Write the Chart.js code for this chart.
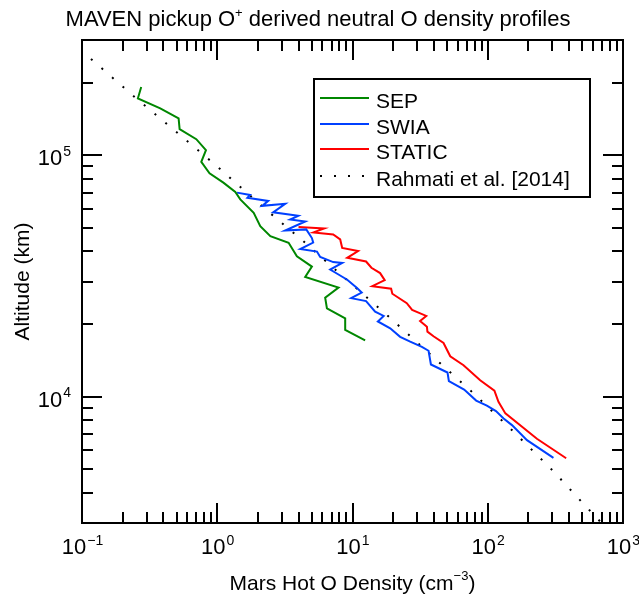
<!DOCTYPE html>
<html>
<head>
<meta charset="utf-8">
<script src="https://cdn.jsdelivr.net/npm/chart.js@4.4.0/dist/chart.umd.min.js"></script>
<style>
  html, body { margin: 0; padding: 0; background: #fff; }
  canvas { display: block; }
</style>
</head>
<body>
<canvas id="myChart" width="639" height="595"></canvas>
<script>
// densities in cm^-3, altitudes in km
var sepDensity = [0.274, 0.259, 0.379, 0.518, 0.527, 0.700, 0.825, 0.762, 0.877, 1.11, 1.36, 1.48, 1.86, 2.08, 2.47, 3.37, 3.88, 5.01, 4.47, 7.88, 6.28, 6.47, 8.83, 8.83, 12.4];
var sepAltitude = [191700, 172000, 156300, 142100, 128200, 116500, 104900, 93800, 84200, 77000, 70400, 65650, 57800, 50840, 46200, 43390, 38150, 34580, 31330, 28290, 25700, 23210, 21090, 18930, 17120];

var swiaDensity = [1.40, 1.75, 1.67, 2.38, 2.15, 3.18, 2.59, 3.97, 3.46, 4.47, 3.18, 4.55, 5.01, 5.12, 4.11, 5.46, 5.77, 7.20, 8.39, 6.84, 7.71, 9.14, 10.8, 11.7, 9.78, 12.6, 13.5, 14.7, 17.0, 15.4, 19.0, 22.5, 26.7, 32.6, 36.5, 38.0, 50.4, 51.6, 66.9, 82.1, 98.5, 115, 131, 151, 195, 306];
var swiaAltitude = [70000, 68500, 66600, 64700, 61700, 62900, 58000, 56100, 54200, 53200, 48800, 49300, 45400, 43500, 40900, 39900, 37900, 36100, 35800, 33600, 32300, 30500, 28200, 27000, 25600, 24900, 23800, 22500, 21600, 20500, 19200, 17700, 16900, 16100, 15500, 13600, 12600, 11600, 10700, 9640, 9190, 8720, 8130, 7630, 6610, 5580];

var staticDensity = [3.99, 6.18, 5.15, 7.20, 8.11, 8.39, 11.0, 9.14, 12.6, 13.8, 16.0, 17.3, 14.0, 19.3, 19.7, 25.2, 27.6, 35.1, 31.6, 35.5, 35.8, 39.7, 47.1, 52.8, 66.2, 87.9, 112, 120, 135, 231, 380];
var staticAltitude = [50500, 49700, 47900, 47000, 44800, 41300, 40100, 37600, 36300, 34200, 32500, 30400, 28700, 28000, 26700, 24400, 22900, 21600, 20600, 19500, 18600, 17800, 16700, 14700, 13500, 11700, 10600, 9530, 8530, 6700, 5560];

var rahmatiDensity = [0.1165, 0.2435, 0.504, 1.05, 2.14, 4.47, 9.09, 18.7, 38.2, 77.6, 155, 306, 496, 685];
var rahmatiAltitude = [250500, 174700, 124300, 87700, 61560, 43390, 30450, 21370, 14860, 10390, 7169, 4913, 3663, 3025];

var seriesNames = ['SEP', 'SWIA', 'STATIC', 'Rahmati et al. [2014]'];
var xDecades = [-1, 0, 1, 2, 3];
var yDecades = [4, 5];

function pts(xs, ys) {
    return xs.map(function (x, i) { return { x: x, y: ys[i] }; });
}

var FONT = '"Liberation Sans", Arial, sans-serif';

function drawPow(ctx, x, y, exp, big, small, align) {
    // draws 10^exp; x is the anchor (center or right edge), y is the baseline
    var e = String(exp).replace('-', '\u2212');
    ctx.font = big + 'px ' + FONT;
    var w1 = ctx.measureText('10').width;
    ctx.font = small + 'px ' + FONT;
    var w2 = ctx.measureText(e).width;
    var start = align === 'center' ? x - (w1 + w2) / 2 : x - (w1 + w2);
    ctx.textAlign = 'left';
    ctx.textBaseline = 'alphabetic';
    ctx.font = big + 'px ' + FONT;
    ctx.fillText('10', start, y);
    ctx.font = small + 'px ' + FONT;
    ctx.fillText(e, start + w1 + 1, y - big * 0.42);
}

var frameAxes = {
    id: 'frameAxes',
    afterDraw: function (chart) {
        var ctx = chart.ctx, a = chart.chartArea;
        var xs = chart.scales.x, ys = chart.scales.y;
        ctx.save();
        ctx.strokeStyle = '#000';
        ctx.fillStyle = '#000';
        ctx.lineWidth = 2;
        ctx.strokeRect(a.left, a.top, a.right - a.left, a.bottom - a.top);

        ctx.beginPath();
        // x ticks, inward on bottom and top
        for (var d = -1; d <= 3; d++) {
            for (var m = 1; m <= 9; m++) {
                var v = m * Math.pow(10, d);
                if (v > 1000.001) break;
                var px = Math.round(xs.getPixelForValue(v));
                var len = m === 1 ? 20 : 11;
                ctx.moveTo(px, a.bottom); ctx.lineTo(px, a.bottom - len);
                ctx.moveTo(px, a.top); ctx.lineTo(px, a.top + len);
            }
        }
        // y ticks, inward on left and right
        for (var d2 = 3; d2 <= 5; d2++) {
            for (var m2 = 1; m2 <= 9; m2++) {
                var v2 = m2 * Math.pow(10, d2);
                if (v2 < 2999 || v2 > 300001) continue;
                var py = Math.round(ys.getPixelForValue(v2));
                var len2 = m2 === 1 ? 20 : 11;
                ctx.moveTo(a.left, py); ctx.lineTo(a.left + len2, py);
                ctx.moveTo(a.right, py); ctx.lineTo(a.right - len2, py);
            }
        }
        ctx.stroke();

        // tick labels
        xDecades.forEach(function (e) {
            drawPow(ctx, xs.getPixelForValue(Math.pow(10, e)), 554, e, 22, 14, 'center');
        });
        yDecades.forEach(function (e) {
            drawPow(ctx, 70, ys.getPixelForValue(Math.pow(10, e)) + 10, e, 22, 14, 'right');
        });

        // title
        ctx.textBaseline = 'alphabetic';
        ctx.textAlign = 'left';
        var t1 = 'MAVEN pickup O', t2 = '+', t3 = ' derived neutral O density profiles';
        ctx.font = '22px ' + FONT;
        var w1 = ctx.measureText(t1).width, w3 = ctx.measureText(t3).width;
        ctx.font = '13px ' + FONT;
        var w2 = ctx.measureText(t2).width;
        var tx = 318 - (w1 + w2 + w3) / 2;
        ctx.font = '22px ' + FONT;
        ctx.fillText(t1, tx, 26);
        ctx.font = '13px ' + FONT;
        ctx.fillText(t2, tx + w1, 17);
        ctx.font = '22px ' + FONT;
        ctx.fillText(t3, tx + w1 + w2, 26);

        // x axis title
        var b1 = 'Mars Hot O Density (cm', b2 = '\u22123', b3 = ')';
        ctx.font = '21px ' + FONT;
        var bw1 = ctx.measureText(b1).width, bw3 = ctx.measureText(b3).width;
        ctx.font = '13px ' + FONT;
        var bw2 = ctx.measureText(b2).width;
        var bx = (a.left + a.right) / 2 - (bw1 + bw2 + bw3) / 2;
        ctx.font = '21px ' + FONT;
        ctx.fillText(b1, bx, 590);
        ctx.font = '13px ' + FONT;
        ctx.fillText(b2, bx + bw1, 580);
        ctx.font = '21px ' + FONT;
        ctx.fillText(b3, bx + bw1 + bw2, 590);

        // y axis title
        ctx.save();
        ctx.translate(29, (a.top + a.bottom) / 2);
        ctx.rotate(-Math.PI / 2);
        ctx.textAlign = 'center';
        ctx.font = '21px ' + FONT;
        ctx.fillText('Altitude (km)', 0, 0);
        ctx.restore();

        // legend box
        ctx.lineWidth = 2;
        ctx.strokeRect(314, 79, 276, 118);
        var rows = [108, 134, 159, 186];
        chart.data.datasets.forEach(function (ds, i) {
            ctx.save();
            ctx.strokeStyle = ds.borderColor;
            ctx.lineWidth = 2;
            if (ds.borderDash) ctx.setLineDash(ds.borderDash);
            ctx.beginPath();
            ctx.moveTo(320, rows[i] - 10);
            ctx.lineTo(369, rows[i] - 10);
            ctx.stroke();
            ctx.restore();
            ctx.font = '21px ' + FONT;
            ctx.textAlign = 'left';
            ctx.fillText(ds.label, 376, rows[i]);
        });
        ctx.restore();
    }
};

var ctx = document.getElementById('myChart').getContext('2d');
var myChart = new Chart(ctx, {
    type: 'scatter',
    data: {
        datasets: [
            { label: seriesNames[0], data: pts(sepDensity, sepAltitude), borderColor: 'rgb(0,135,0)' },
            { label: seriesNames[1], data: pts(swiaDensity, swiaAltitude), borderColor: 'rgb(0,64,255)' },
            { label: seriesNames[2], data: pts(staticDensity, staticAltitude), borderColor: 'rgb(255,0,0)' },
            { label: seriesNames[3], data: pts(rahmatiDensity, rahmatiAltitude), borderColor: '#000', borderDash: [2, 12] }
        ].map(function (ds) {
            ds.showLine = true;
            ds.pointRadius = 0;
            ds.borderWidth = 2;
            ds.tension = 0;
            ds.fill = false;
            return ds;
        })
    },
    options: {
        responsive: false,
        animation: false,
        layout: { padding: { left: 82, right: 16, top: 40, bottom: 72 } },
        scales: {
            x: { type: 'logarithmic', min: 0.1, max: 1000, display: false },
            y: { type: 'logarithmic', min: 3000, max: 300000, display: false }
        },
        plugins: {
            legend: { display: false },
            title: { display: false },
            tooltip: { enabled: false }
        }
    },
    plugins: [frameAxes]
});
</script>
</body>
</html>
